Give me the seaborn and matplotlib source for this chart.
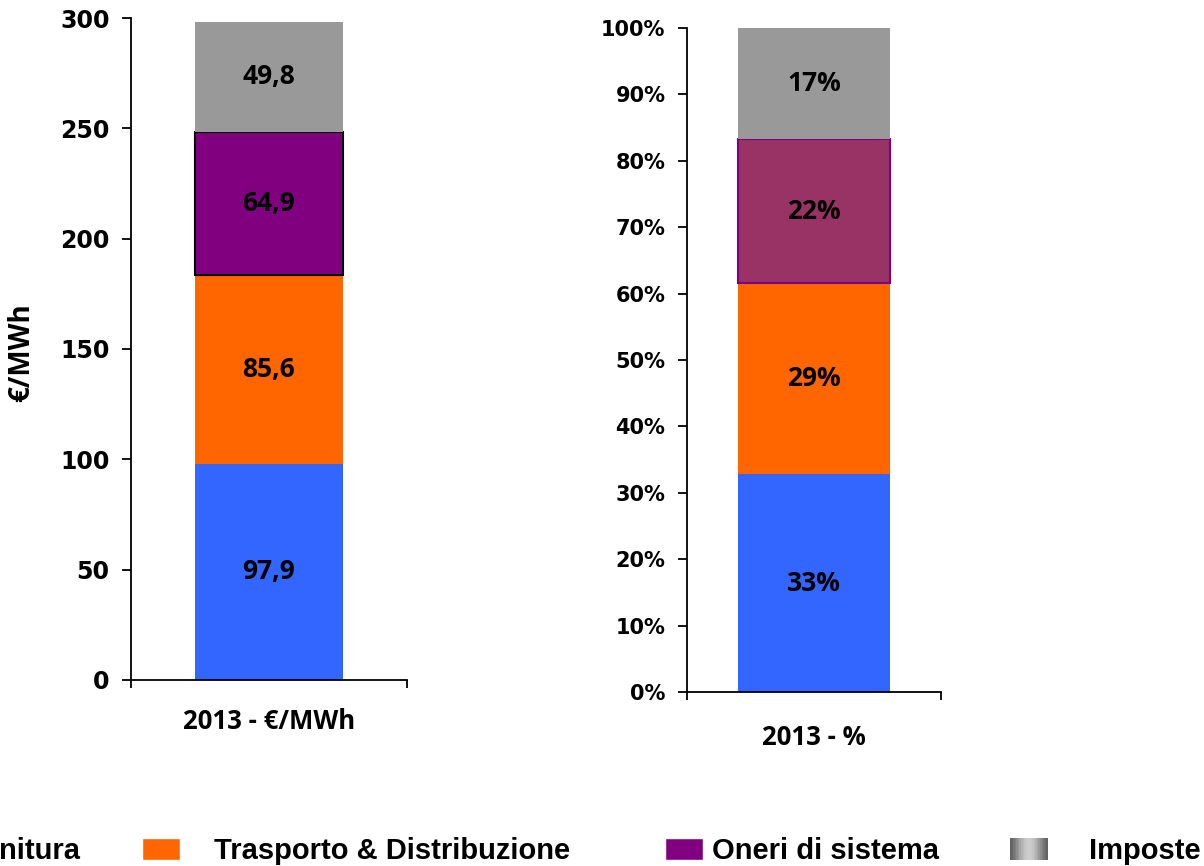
import numpy as np
import pandas as pd
import seaborn as sns
import matplotlib.pyplot as plt
from matplotlib.patches import Patch, Rectangle
from matplotlib.legend_handler import HandlerBase
from matplotlib.ticker import PercentFormatter, FixedLocator

# data
components = ["Fornitura", "Trasporto & Distribuzione", "Oneri di sistema", "Imposte"]
values = [97.9, 85.6, 64.9, 49.8]          # €/MWh, 2013
cat_abs = "2013 - €/MWh"
cat_pct = "2013 - %"

colors_left = ["#3366FF", "#FF6600", "#800080", "#999999"]
colors_right = ["#3366FF", "#FF6600", "#993366", "#999999"]
edges_left = ["none", "none", "black", "none"]
edges_right = ["none", "none", "#800080", "none"]

total = sum(values)
shares = [v / total for v in values]

sns.set_style("ticks")
plt.rcParams['font.family'] = ['DejaVu Sans']
plt.rcParams['font.weight'] = 'bold'
for k in ['text.color', 'axes.labelcolor', 'xtick.color', 'ytick.color',
          'xtick.labelcolor', 'ytick.labelcolor', 'axes.edgecolor']:
    plt.rcParams[k] = 'black'

fig = plt.figure(figsize=(12.04, 8.66), dpi=100)
ax1 = fig.add_axes([0.1088, 0.2148, 0.2292, 0.7644])
ax2 = fig.add_axes([0.5706, 0.2009, 0.2110, 0.7667])

lab_font = dict(family='Open Sans', weight='bold', size=19, color='black')


def stacked(ax, cat, vals, cols, edges, width, fmt):
    bottom = 0
    for v, c, e in zip(vals, cols, edges):
        df = pd.DataFrame({'cat': [cat], 'val': [v]})
        sns.barplot(data=df, x='cat', y='val', color=c, saturation=1,
                    errorbar=None, width=width, bottom=bottom,
                    edgecolor=e, linewidth=1.5 if e != "none" else 0, ax=ax)
        ax.bar_label(ax.containers[-1], labels=[fmt(v)], label_type='center',
                     **lab_font)
        bottom += v


stacked(ax1, cat_abs, values, colors_left, edges_left, 0.533,
        lambda v: f"{v:.1f}".replace(".", ","))
stacked(ax2, cat_pct, shares, colors_right, edges_right, 0.6,
        lambda v: f"{v*100:.0f}%")

ax1.set_ylim(0, 300)
ax1.set_yticks(range(0, 301, 50))
ax2.set_ylim(0, 1)
ax2.set_yticks(np.arange(0, 1.01, 0.1))
ax2.yaxis.set_major_formatter(PercentFormatter(1, decimals=0))

for ax, ysize, xpad in [(ax1, 17, 20), (ax2, 15, 23)]:
    ax.set_xlim(-0.5, 0.5)
    sns.despine(ax=ax)
    for s in ['left', 'bottom']:
        ax.spines[s].set_linewidth(1.3)
        ax.spines[s].set_color('black')
    ax.tick_params(axis='y', direction='out', length=6.5, width=1.3,
                   pad=9, labelsize=ysize, colors='black')
    ax.tick_params(axis='x', which='major', length=0, pad=xpad)
    ax.xaxis.set_minor_locator(FixedLocator([-0.5, 0.5]))
    ax.tick_params(axis='x', which='minor', direction='out', length=6, width=1.3)
    for t in ax.get_xticklabels():
        t.set_fontfamily('Open Sans')
        t.set_fontweight('bold')
        t.set_fontsize(18.5)
        t.set_color('black')
    for t in ax.get_yticklabels():
        t.set_fontweight('bold')
    ax.set_xlabel('')
    ax.set_ylabel('')

ax1.set_ylabel('€/MWh', fontfamily='Open Sans', fontweight='bold', fontsize=20,
               color='black')
ax1.yaxis.set_label_coords(-0.345, 0.494)


class GradientHandler(HandlerBase):
    def create_artists(self, legend, orig_handle, xdescent, ydescent,
                       width, height, fontsize, trans):
        n = 24
        arts = []
        for i in range(n):
            s = 0.38 + 0.42 * np.sin(np.pi * (i + 0.5) / n) ** 1.5
            r = Rectangle((-xdescent + width * i / n, -ydescent), width / n * 1.05,
                          height, facecolor=(s, s, s), edgecolor='none',
                          transform=trans)
            arts.append(r)
        return arts


# legend runs off the left edge in the original too ("...nitura")
leg_font = dict(family='Liberation Sans', weight='bold', size=21)
leg_x = [-120, 142, 665, 1010]
leg_pad = [1.17, 1.17, 0.3, 1.4]
leg_handles = [Patch(facecolor=colors_left[0]), Patch(facecolor=colors_left[1]),
               Patch(facecolor=colors_left[2]), Patch(facecolor='#999999')]
for h, lab, x, pad in zip(leg_handles, components, leg_x, leg_pad):
    kw = {}
    if lab == "Imposte":
        kw['handler_map'] = {Patch: GradientHandler()}
    lg = fig.legend([h], [lab], loc='center left',
                    bbox_to_anchor=(x / 1204, 15 / 866), frameon=False,
                    borderpad=0, borderaxespad=0, handlelength=1.3,
                    handleheight=0.82, handletextpad=pad, prop=leg_font, **kw)

fig.savefig('out.png', dpi=100)
